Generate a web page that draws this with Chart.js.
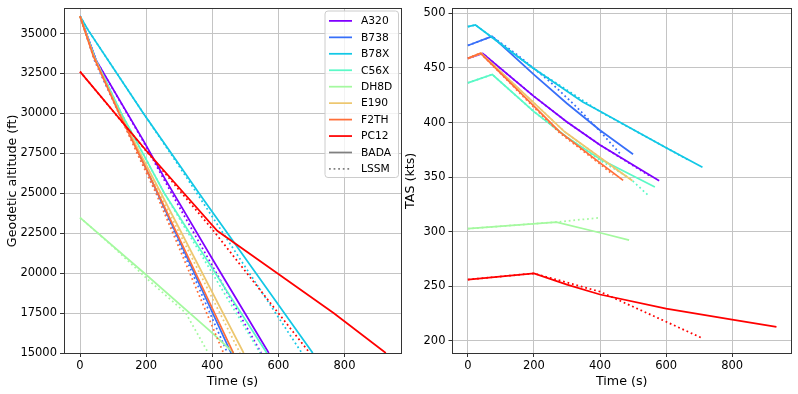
<!DOCTYPE html>
<html><head><meta charset="utf-8">
<script src="https://cdn.jsdelivr.net/npm/chart.js@4.4.1/dist/chart.umd.min.js"></script>
<style>
html,body{margin:0;padding:0;background:#fff;}
#wrap{position:relative;width:798px;height:394px;overflow:hidden;background:#fff;}
canvas{position:absolute;top:0;}
#c1{left:0;} #c2{left:403px;}
</style></head><body>
<div id="wrap"><canvas id="c1" width="403" height="394"></canvas><canvas id="c2" width="395" height="394"></canvas></div>
<script>
// ---------------- data ----------------
const aircraft = ['A320','B738','B78X','C56X','DH8D','E190','F2TH','PC12'];
const models = ['BADA','LSSM'];
const timeTicks = [0,200,400,600,800];
const altTicks = [15000,17500,20000,22500,25000,27500,30000,32500,35000];
const tasTicks = [200,250,300,350,400,450,500];

// geodetic altitude (ft) vs time (s), BADA model
const altBADA = {
  A320: [[0,36089],[48,33350],[190,28360],[257,25900],[400,20900],[571,15000]],
  B738: [[0,36089],[50,33250],[250,24300],[457,15000]],
  B78X: [[0,36089],[25,35200],[192,30000],[276,27500],[360,25000],[704,15000]],
  C56X: [[0,36089],[45,33450],[125,30000],[190,27500],[255,25000],[400,20300],[565,15000]],
  DH8D: [[0,23475],[200,19900],[393,16380],[465,15000]],
  E190: [[0,36089],[42,33550],[120,30000],[182,27500],[245,25000],[495,15000]],
  F2TH: [[0,36089],[40,33600],[118,30000],[177,27500],[236,25000],[464,15000]],
  PC12: [[0,32620],[200,27680],[415,22650],[600,19950],[767,17500],[925,15000]]
};
// geodetic altitude (ft) vs time (s), LSSM model
const altLSSM = {
  A320: [[0,36089],[48,33350],[190,28300],[250,26000],[548,15000]],
  B738: [[0,36089],[45,33250],[120,29900],[240,24700],[446,15000]],
  B78X: [[0,36089],[25,35200],[192,30000],[290,27000],[671,15000]],
  C56X: [[0,36089],[45,33450],[125,30000],[190,27500],[255,25000],[545,15000]],
  DH8D: [[0,23475],[100,21650],[200,19700],[320,17500],[388,15000]],
  E190: [[0,36089],[42,33550],[120,30000],[182,27500],[240,25000],[484,15000]],
  F2TH: [[0,36089],[40,33600],[118,30000],[175,27400],[230,25000],[434,15000]],
  PC12: [[0,32620],[200,27650],[400,22750],[695,15000]]
};
// true airspeed (kts) vs time (s), BADA model
const tasBADA = {
  A320: [[0,458.8],[45,463.3],[200,424],[300,400.5],[400,379.5],[579,346.7]],
  B738: [[0,470.6],[73,479],[200,444],[300,417.5],[400,393],[500,371]],
  B78X: [[0,487.9],[23,489.4],[197,450],[348,418.8],[400,410.4],[600,377],[710,359]],
  C56X: [[0,436.4],[74,444],[200,410],[300,386.5],[400,366.5],[566,341]],
  DH8D: [[0,302.7],[268,308.8],[400,299],[488,292.2]],
  E190: [[0,458.8],[40,463.4],[200,418],[293,391.5],[400,368],[498,346.7]],
  F2TH: [[0,458.8],[38,463.6],[200,415],[278,391.5],[400,363],[470,347]],
  PC12: [[0,256.1],[200,261.8],[300,251.5],[400,242.4],[600,229.4],[800,219.4],[934,212.7]]
};
// true airspeed (kts) vs time (s), LSSM model
const tasLSSM = {
  A320: [[0,458.8],[45,463.3],[200,424],[300,400.5],[400,379.5],[548,351.5]],
  B738: [[0,470.6],[73,479],[150,462],[250,437],[330,414],[400,392],[465,370]],
  B78X: [[0,487.9],[23,489.4],[197,450],[400,410],[600,377],[671,365]],
  C56X: [[0,436.4],[74,444],[200,410],[300,386.5],[400,365.5],[490,349],[545,333.5]],
  DH8D: [[0,302.7],[268,308.8],[397,312.7]],
  E190: [[0,458.8],[40,463.4],[200,418],[293,391.5],[400,368],[484,349.5]],
  F2TH: [[0,458.8],[38,463.6],[200,414],[278,390.5],[400,362],[440,352]],
  PC12: [[0,256.1],[200,261.8],[400,245],[705,203]]
};

// ---------------- styles ----------------
const colors = ['#8000ff','#376ff9','#12c8e6','#5bf9c7','#a4f99f','#edc76f','#ff6f39','#ff0000'];
const FONT = 'DejaVu Sans';
const LW = 1.75;
const DOTS = [1.75, 2.85];

function buildDatasets(bada, lssm) {
  const ds = [];
  let k = 0;
  aircraft.forEach((name, i) => {
    [[bada, []], [lssm, DOTS]].forEach(([src, dash]) => {
      ds.push({
        label: name,
        data: src[name].map(([x, y]) => ({x, y})),
        borderColor: colors[i],
        backgroundColor: colors[i],
        borderWidth: LW,
        borderDash: dash,
        borderCapStyle: 'butt',
        pointRadius: 0,
        showLine: true,
        fill: false,
        tension: 0,
        order: 100 - k
      });
      k++;
    });
  });
  return ds;
}

const framePlugin = {
  id: 'frame',
  afterDatasetsDraw(chart) {
    const {ctx, chartArea: a} = chart;
    const L = Math.floor(a.left), T = Math.floor(a.top), R = Math.floor(a.right), B = Math.floor(a.bottom);
    ctx.save();
    ctx.strokeStyle = '#333333';
    ctx.lineWidth = 1;
    ctx.setLineDash([]);
    ctx.strokeRect(L + 0.5, T + 0.5, R - L, B - T);
    ctx.restore();
  }
};

const legendPlugin = {
  id: 'mplLegend',
  afterDraw(chart) {
    const ctx = chart.ctx;
    const bx = 325, by = 11, bw = 73.5, bh = 166.5, r = 3;
    ctx.save();
    ctx.beginPath();
    ctx.moveTo(bx + r, by);
    ctx.lineTo(bx + bw - r, by); ctx.quadraticCurveTo(bx + bw, by, bx + bw, by + r);
    ctx.lineTo(bx + bw, by + bh - r); ctx.quadraticCurveTo(bx + bw, by + bh, bx + bw - r, by + bh);
    ctx.lineTo(bx + r, by + bh); ctx.quadraticCurveTo(bx, by + bh, bx, by + bh - r);
    ctx.lineTo(bx, by + r); ctx.quadraticCurveTo(bx, by, bx + r, by);
    ctx.closePath();
    ctx.fillStyle = 'rgba(255,255,255,0.8)';
    ctx.fill();
    ctx.strokeStyle = '#cccccc';
    ctx.lineWidth = 1;
    ctx.stroke();
    const items = aircraft.map((n, i) => ({text: n, color: colors[i], dash: []}))
      .concat(models.map((m, j) => ({text: m, color: '#808080', dash: j ? DOTS : []})));
    ctx.font = '10.7px "' + FONT + '"';
    ctx.textBaseline = 'middle';
    ctx.textAlign = 'left';
    items.forEach((it, i) => {
      const cy = 20.9 + i * 16.45;
      ctx.beginPath();
      ctx.setLineDash(it.dash);
      ctx.lineCap = 'butt';
      ctx.strokeStyle = it.color;
      ctx.lineWidth = LW;
      ctx.moveTo(329, cy); ctx.lineTo(352, cy);
      ctx.stroke();
      ctx.setLineDash([]);
      ctx.fillStyle = '#000';
      ctx.fillText(it.text, 361, cy + 0.5);
    });
    ctx.restore();
  }
};

function axisCfg(opts) {
  return {
    type: 'linear',
    min: opts.min, max: opts.max,
    afterBuildTicks: s => { s.ticks = opts.ticks.map(v => ({value: v})); },
    afterFit: opts.fit,
    ticks: {
      autoSkip: false, maxRotation: 0, minRotation: 0,
      padding: opts.pad, color: '#000',
      font: {family: FONT, size: 11.5, lineHeight: 1.0},
      callback: v => String(v)
    },
    grid: {color: '#c4c4c4', lineWidth: 1, drawTicks: true, tickLength: 4, tickColor: '#333333', tickWidth: 1},
    border: {display: false},
    title: {display: true, text: opts.title, color: '#000',
      font: {family: FONT, size: 12.7, lineHeight: 1.2}, padding: opts.tpad}
  };
}

function makeChart(id, datasets, xr, yr, yTicks, yTitle, yWidth, yTitlePad, padding, plugins) {
  return new Chart(document.getElementById(id), {
    type: 'scatter',
    data: {datasets},
    options: {
      responsive: false, animation: false, devicePixelRatio: 1,
      layout: {padding},
      plugins: {legend: {display: false}, tooltip: {enabled: false}},
      scales: {
        x: axisCfg({min: xr[0], max: xr[1], ticks: timeTicks, title: 'Time (s)', pad: 3,
          tpad: {top: 0, bottom: 5}, fit: s => { s.height = 41; }}),
        y: axisCfg({min: yr[0], max: yr[1], ticks: yTicks, title: yTitle, pad: 3,
          tpad: {top: yTitlePad, bottom: 0}, fit: s => { s.width = yWidth; }})
      }
    },
    plugins
  });
}

makeChart('c1', buildDatasets(altBADA, altLSSM), [-48.5, 971], [15000, 36553], altTicks,
  'Geodetic altitude (ft)', 64, 5, {left: 0, right: 2, top: 6, bottom: 0}, [framePlugin, legendPlugin]);
makeChart('c2', buildDatasets(tasBADA, tasLSSM), [-46.5, 978], [188.8, 504.3], tasTicks,
  'TAS (kts)', 49.5, 0.5, {left: 0, right: 7, top: 6, bottom: 0}, [framePlugin]);
</script>
</body></html>
